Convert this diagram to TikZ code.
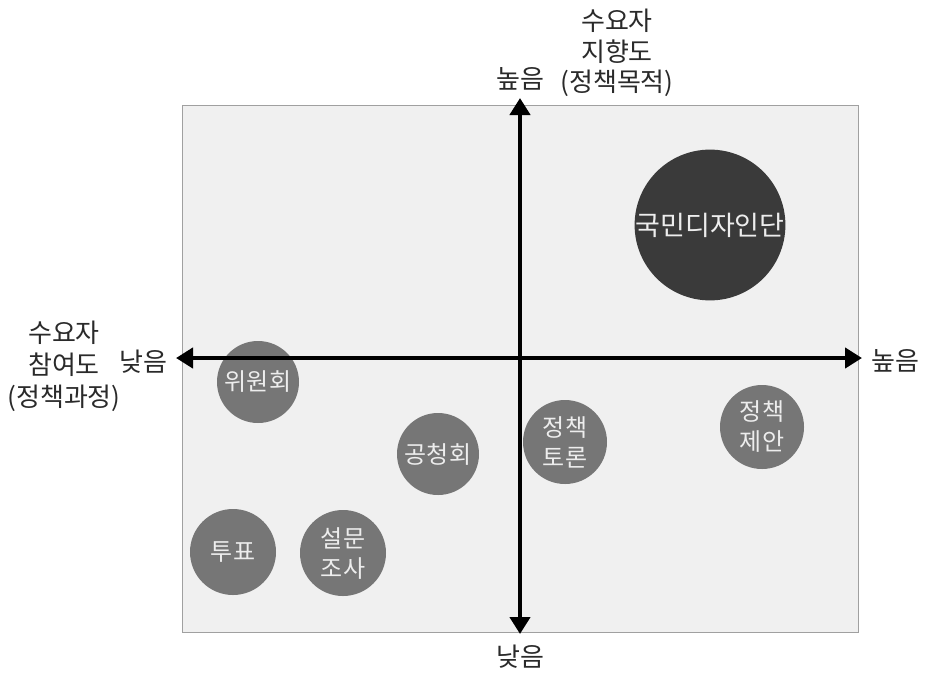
\documentclass[tikz,border=0pt]{standalone}
\usepackage{fontspec}
\setmainfont{Noto Sans CJK KR}
\usetikzlibrary{arrows.meta}
\definecolor{boxfill}{HTML}{F0F0F0}
\definecolor{boxline}{HTML}{A0A0A0}
\definecolor{bubble}{HTML}{767676}
\definecolor{bigbubble}{HTML}{3A3A3A}
\definecolor{labeltext}{HTML}{2A2A2A}
\tikzset{
  x=1pt, y=-1pt,
  axis/.style={line width=4.5pt, {Triangle[length=17pt,width=20pt]}-{Triangle[length=17pt,width=20pt]}},
  bubblenode/.style={circle, fill=bubble, text=white!93!black, inner sep=0pt, font=\fontsize{24}{30}\selectfont, align=center},
  lbl/.style={text=labeltext, font=\fontsize{26}{32}\selectfont, align=center, inner sep=0pt}
}
\begin{document}
\begin{tikzpicture}
\useasboundingbox (0,0) rectangle (925,673);
\fill[white] (0,0) rectangle (925,673);
\node[draw=boxline, fill=boxfill, line width=1.2pt, minimum width=676pt, minimum height=527pt, inner sep=0pt, anchor=north west] (box) at (182,105) {};
\coordinate (top) at (520,98);
\coordinate (bot) at (520,634);
\coordinate (lft) at (176,358);
\coordinate (rgt) at (862,358);
\node[bubblenode, fill=bigbubble, minimum size=150pt, font=\fontsize{27}{30}\selectfont] (kuk) at (710,225) {국민디자인단};
\node[bubblenode, minimum size=82pt] (wiw) at (258,382) {위원회};
\node[bubblenode, minimum size=82pt] (gong) at (438,454) {공청회};
\node[bubblenode, minimum size=84pt] (toron) at (565,442) {정책\\토론};
\node[bubblenode, minimum size=84pt] (jean) at (762,427) {정책\\제안};
\node[bubblenode, minimum size=86pt] (tupyo) at (233,552) {투표};
\node[bubblenode, minimum size=86pt] (seol) at (343,553) {설문\\조사};
\draw[axis] (bot) -- (top);
\draw[axis] (lft) -- (rgt);
\node[lbl, font=\fontsize{26}{30.5}\selectfont] (ytitle) at (617,53) {수요자\\지향도\\(정책목적)};
\node[lbl] (yhi) at (520,79) {높음};
\node[lbl] (ylo) at (520,657) {낮음};
\node[lbl] (xtitle) at (64,366) {수요자\\참여도\\(정책과정)};
\node[lbl] (xlo) at (143,362) {낮음};
\node[lbl] (xhi) at (895,361) {높음};
\end{tikzpicture}
\end{document}
